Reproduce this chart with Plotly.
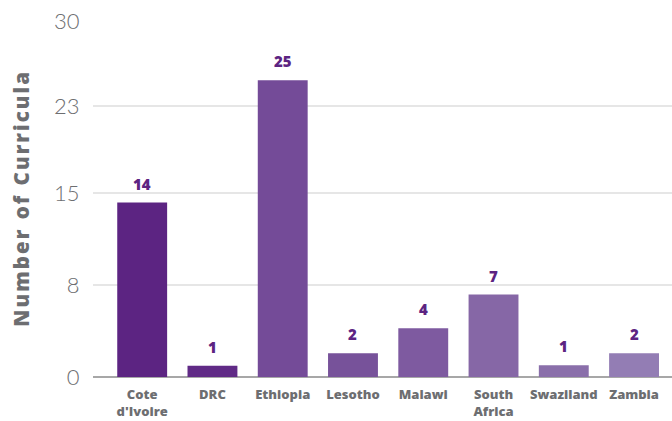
import plotly.graph_objects as go

categories = ["Cote<br>d'Ivoire", "DRC", "Ethiopia", "Lesotho", "Malawi", "South<br>Africa", "Swaziland", "Zambia"]
values = [14.7, 0.95, 25, 2, 4.1, 6.95, 1, 2]
labels = ["14", "1", "25", "2", "4", "7", "1", "2"]
colors = ["#5c2482", "#602a86", "#744b98", "#77529a", "#7e5aa0", "#8667a6", "#8a6faa", "#937db4"]
tick_vals = [0, 7.75, 15.5, 22.8, 30]
tick_text = ["0", "8", "15", "23", "30"]

fig = go.Figure()
fig.add_trace(go.Bar(x=list(range(len(categories))), y=values, marker=dict(color=colors, line=dict(width=0)),
                     width=0.71, hoverinfo="skip"))

for i, (v, t) in enumerate(zip(values, labels)):
    fig.add_annotation(x=i, y=v, text=t, showarrow=False, yanchor="bottom", yshift=7,
                       font=dict(family="Open Sans", size=15, color="#5c2482", weight=800))

title = "\u200a".join("Number of Curricula").replace("\u200a \u200a", "\u2002")
fig.add_annotation(xref="paper", yref="paper", x=-0.125, y=0.5, xanchor="center", yanchor="middle",
                   text=title, textangle=-90, showarrow=False,
                   font=dict(family="Open Sans", size=20.5, color="#6d6e71", weight=800))

fig.update_layout(
    width=672, height=421,
    margin=dict(l=93, r=0, t=21, b=44, autoexpand=False),
    plot_bgcolor="white", paper_bgcolor="white",
    showlegend=False,
    xaxis=dict(tickmode="array", tickvals=list(range(len(categories))),
               ticktext=categories, automargin=False,
               range=[-0.7, 7.54], showgrid=False, zeroline=False, showline=False,
               ticks="outside", ticklen=5, tickcolor="rgba(0,0,0,0)",
               tickfont=dict(family="Open Sans", size=13, color="#6d6e71", weight=800)),
    yaxis=dict(range=[0, 30], tickmode="array", tickvals=tick_vals, ticktext=tick_text,
               automargin=False,
               showgrid=True, gridcolor="#e6e6e6", gridwidth=1.5,
               zeroline=True, zerolinecolor="#a7a7a7", zerolinewidth=1.5,
               showline=False, ticks="outside", ticklen=8, tickcolor="rgba(0,0,0,0)",
               tickfont=dict(family="Lato", size=22, color="#6d6e71", weight=300)),
)

fig.write_html("out.html")
